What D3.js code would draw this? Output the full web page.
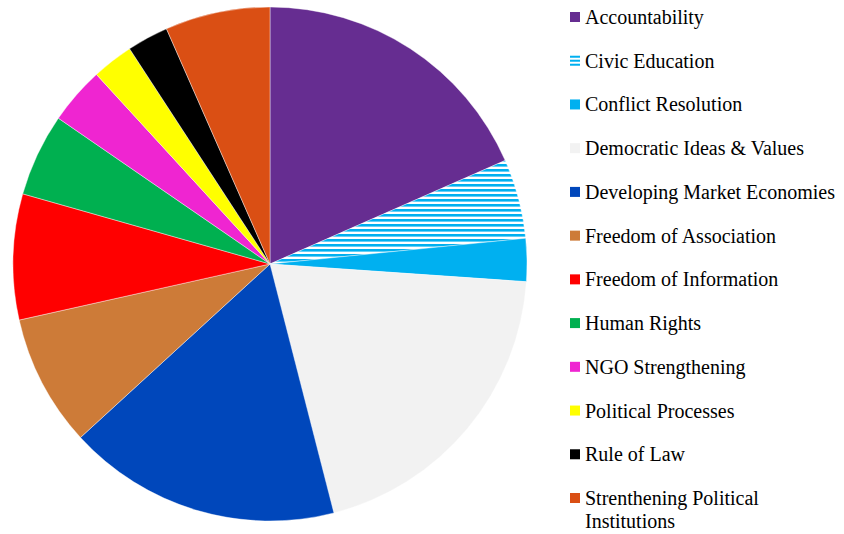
<!DOCTYPE html>
<html>
<head>
<meta charset="utf-8">
<script src="https://cdn.jsdelivr.net/npm/d3@7"></script>
<style>
  body { margin: 0; background: #fff; }
</style>
</head>
<body>
<div id="chart"></div>
<script>
// categories and shares (percent)
const categories = ['Accountability', 'Civic Education', 'Conflict Resolution',
  'Democratic Ideas & Values', 'Developing Market Economies', 'Freedom of Association',
  'Freedom of Information', 'Human Rights', 'NGO Strengthening', 'Political Processes',
  'Rule of Law', 'Strenthening Political Institutions'];
const shares = [18.4, 5.0, 2.7, 19.9, 17.2, 8.3, 7.9, 5.2, 3.6, 2.6, 2.6, 6.6];
const colors = ['#662d91', 'url(#stripes)', '#00b0f0', '#f2f2f2', '#0047bb', '#cd7b38',
  '#ff0000', '#00b050', '#ef25d1', '#ffff00', '#000000', '#da4f14'];

const w = 844;
const h = 534;
const cx = 270, cy = 264, r = 257;

const svg = d3.select('#chart')
              .append('svg')
              .attr('width', w)
              .attr('height', h);

// striped fill for civic education
const pat = svg.append('defs')
               .append('pattern')
               .attr('id', 'stripes')
               .attr('patternUnits', 'userSpaceOnUse')
               .attr('width', 8)
               .attr('height', 5);
pat.append('rect').attr('width', 8).attr('height', 5).attr('fill', '#fff');
pat.append('rect').attr('width', 8).attr('height', 2.6).attr('fill', '#00b0f0');

const pie = d3.pie().sort(null).value((d) => d);
const arc = d3.arc().innerRadius(0).outerRadius(r);

svg.append('g')
   .attr('transform', 'translate(' + cx + ',' + cy + ')')
   .selectAll('path')
   .data(pie(shares))
   .enter()
   .append('path')
   .attr('d', arc)
   .attr('fill', (d, i) => colors[i])
   .attr('stroke', '#fff')
   .attr('stroke-width', 0.4);

// legend
const legY = d3.scalePoint()
               .domain(categories)
               .range([17, 498]);

const leg = svg.append('g')
               .selectAll('g')
               .data(categories)
               .enter()
               .append('g')
               .attr('transform', (d) => 'translate(570,' + legY(d) + ')');

leg.each(function (d, i) {
  const g = d3.select(this);
  if (i === 1) {
    [-4, 0, 4].forEach((yy) => {
      g.append('rect').attr('x', 0).attr('y', yy - 1).attr('width', 10).attr('height', 2).attr('fill', '#00b0f0');
    });
  } else {
    g.append('rect').attr('x', 0).attr('y', -5).attr('width', 10).attr('height', 10).attr('fill', colors[i]);
  }
});

leg.append('text')
   .attr('x', 15)
   .attr('y', 0)
   .attr('dy', '0.35em')
   .style('font-family', '"Liberation Serif", "Times New Roman", serif')
   .style('font-size', '20px')
   .attr('fill', '#000')
   .each(function (d) {
     const t = d3.select(this);
     if (d === 'Strenthening Political Institutions') {
       t.append('tspan').attr('x', 15).text('Strenthening Political');
       t.append('tspan').attr('x', 15).attr('dy', 23).text('Institutions');
     } else {
       t.text(d);
     }
   });
</script>
</body>
</html>
